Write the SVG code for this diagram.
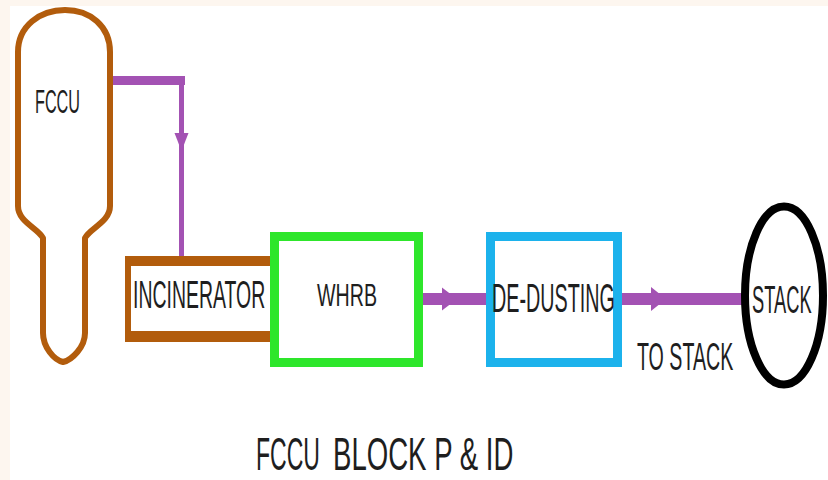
<svg xmlns="http://www.w3.org/2000/svg" width="828" height="480" viewBox="0 0 828 480">
  <style>
    .lbl { font-family: "Liberation Sans", Arial, sans-serif; fill: #1e1e1e; }
    .pipe { stroke: #a352b3; fill: none; }
    .head { fill: #a352b3; }
  </style>
  <!-- page -->
  <rect x="0" y="0" width="828" height="480" fill="#fdf6ef"/>
  <rect x="10" y="6" width="818" height="474" fill="#ffffff"/>

  <!-- connectors -->
  <g id="connectors">
    <!-- FCCU overhead to incinerator -->
    <line class="pipe" x1="112" y1="80.5" x2="185" y2="80.5" stroke-width="9"/>
    <line class="pipe" x1="181.5" y1="76" x2="181.5" y2="258" stroke-width="5"/>
    <polygon class="head" points="174.5,133 188.5,133 181.5,151"/>
    <!-- WHRB to de-dusting -->
    <line class="pipe" x1="420" y1="299" x2="488" y2="299" stroke-width="12"/>
    <polygon class="head" points="442,287.5 457,299 442,310.5"/>
    <!-- de-dusting to stack -->
    <line class="pipe" x1="620" y1="299" x2="743" y2="299" stroke-width="12"/>
    <polygon class="head" points="651,287 666,299 651,311"/>
  </g>

  <g id="fccu">
    <path d="M18,206 L18,52 C18,26 40,10 65,10 C90,10 110,26 110,52 L110,206 C110,222 90,228 85,238 L85,333 C85,347 72,360 63,362 C54,360 43,347 43,333 L43,238 C38,228 18,222 18,206 Z"
          fill="#ffffff" stroke="#b25c0c" stroke-width="6" stroke-linejoin="round"/>
    <text class="lbl" font-size="34" transform="translate(35,113) scale(0.477,1)">FCCU</text>
  </g>

  <g id="incinerator">
    <rect x="125" y="256" width="148" height="86" fill="#b25c0c"/>
    <rect x="131" y="266" width="142" height="65" fill="#ffffff"/>
    <text class="lbl" font-size="38" transform="translate(133,308) scale(0.512,1)">INCINERATOR</text>
  </g>

  <g id="whrb">
    <rect x="274.5" y="236.5" width="144" height="126" fill="#ffffff" stroke="#2ee62b" stroke-width="9"/>
    <text class="lbl" font-size="32" transform="translate(317,306) scale(0.614,1)">WHRB</text>
  </g>

  <g id="de-dusting">
    <rect x="490.5" y="236.5" width="127" height="126" fill="#ffffff" stroke="#1cb2ec" stroke-width="9"/>
    <text class="lbl" font-size="40" transform="translate(492,312) scale(0.494,1)">DE-DUSTING</text>
  </g>

  <g id="stack">
    <ellipse cx="784" cy="295.5" rx="39" ry="89" fill="#ffffff" stroke="#000000" stroke-width="8"/>
    <text class="lbl" font-size="39" transform="translate(752,313) scale(0.469,1)">STACK</text>
  </g>

  <text class="lbl" font-size="39" transform="translate(637,370) scale(0.503,1)">TO STACK</text>

  <g id="title">
    <text class="lbl" font-size="47" transform="translate(256,470) scale(0.490,1)">FCCU</text>
    <text class="lbl" font-size="47" transform="translate(333,470) scale(0.587,1)">BLOCK P &amp; ID</text>
  </g>
</svg>
